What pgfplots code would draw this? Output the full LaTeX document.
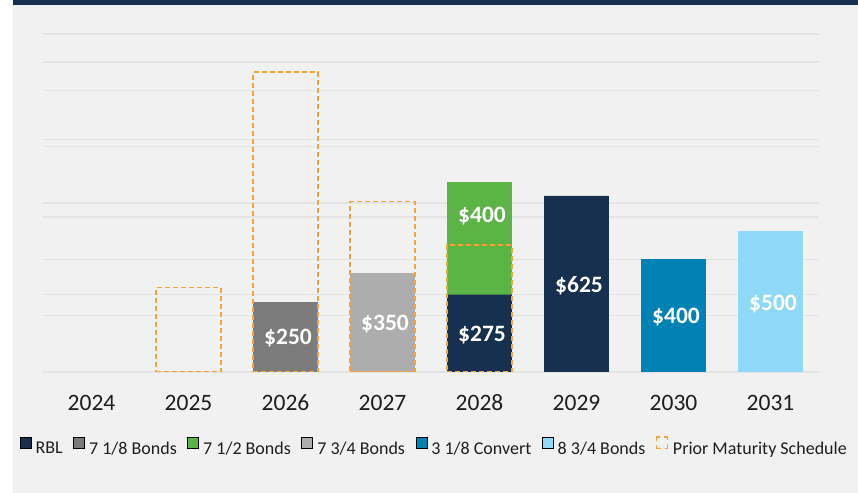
\documentclass[border=0pt]{standalone}
\usepackage{fontspec}
\setmainfont{Carlito}
\usepackage{pgfplots}
\usepackage{pgfplotstable}
\pgfplotsset{compat=1.18}
\definecolor{bgc}{HTML}{F1F1F1}
\definecolor{gridc}{HTML}{E4E4E4}
\definecolor{navy}{HTML}{17304F}
\definecolor{gdark}{HTML}{7B7B7B}
\definecolor{green}{HTML}{5CB346}
\definecolor{glight}{HTML}{ADADAD}
\definecolor{teal}{HTML}{0082B4}
\definecolor{sky}{HTML}{8FD8F7}
\definecolor{orangeD}{HTML}{F5A33A}
\definecolor{txt}{HTML}{1E1E1E}

% maturities by year (2024 = 0 ... 2031 = 7), $ millions
\pgfplotstableread{
x rbl b718 b712 b734 cv318 b834
0 0   0   0   0   0   0
1 0   0   0   0   0   0
2 0   250 0   0   0   0
3 0   0   0   350 0   0
4 275 0   400 0   0   0
5 625 0   0   0   0   0
6 0   0   0   0   400 0
7 0   0   0   0   0   500
}\debtdata

\pgfplotstableread{
x y
1 300
2 1065
3 605
4 450
}\priordata

\pgfplotstableread{
x y label
2 124 \$250
3 174 \$350
4 135 \$275
4 556 \$400
5 310 \$625
6 199 \$400
7 246 \$500
}\labeldata

\pgfplotsset{
  frame/.style={
    at={(43bp,121bp)}, anchor=south west,
    scale only axis, width=776bp, height=338bp,
    xmin=-0.5, xmax=7.5, ymin=0, ymax=1200,
  }
}

\begin{document}
\begin{tikzpicture}
\fill[white] (0,0) rectangle (858bp,493bp);
\fill[bgc] (13bp,0) rectangle (858bp,488bp);
\fill[navy] (13bp,488bp) rectangle (858bp,493bp);

\begin{axis}[
  frame,
  ybar stacked,
  bar width=0.667,
  axis line style={draw=none},
  tick style={draw=none},
  xtick={0,1,2,3,4,5,6,7},
  xticklabels={2024,2025,2026,2027,2028,2029,2030,2031},
  xticklabel style={anchor=center, yshift=-30.7bp, text=txt,
    font=\fontsize{23.5bp}{28bp}\selectfont},
  ytick={0,200,400,600,800,1000,1200},
  yticklabels={},
  extra y ticks={275,550,825,1100},
  extra y tick labels={},
  extra y tick style={grid=major},
  ymajorgrids,
  grid style={draw=gridc, line width=1.4bp},
  legend columns=-1,
  legend image code/.code={\draw[#1] (0bp,0bp) rectangle (11bp,11.5bp);},
  legend style={at={(0.5045,-0.219)}, anchor=center, draw=none, fill=none,
    font=\fontsize{18bp}{22bp}\selectfont, text=txt,
    nodes={inner xsep=2.5bp, inner ysep=0bp},
    /tikz/every odd column/.append style={column sep=2bp},
    /tikz/every even column/.append style={column sep=8bp}},
]
\addplot[fill=navy, draw=none] table[x=x, y=rbl] {\debtdata};
\addlegendentry{RBL}
\addplot[fill=gdark, draw=none] table[x=x, y=b718] {\debtdata};
\addlegendentry{7 1/8 Bonds}
\addplot[fill=green, draw=none] table[x=x, y=b712] {\debtdata};
\addlegendentry{7 1/2 Bonds}
\addplot[fill=glight, draw=none] table[x=x, y=b734] {\debtdata};
\addlegendentry{7 3/4 Bonds}
\addplot[fill=teal, draw=none] table[x=x, y=cv318] {\debtdata};
\addlegendentry{3 1/8 Convert}
\addplot[fill=sky, draw=none] table[x=x, y=b834] {\debtdata};
\addlegendentry{8 3/4 Bonds}
\addlegendimage{draw=orangeD, fill=none, line width=1.5bp,
  dash pattern=on 7bp off 4bp, dash phase=3.5bp}
\addlegendentry{Prior Maturity Schedule}
\end{axis}

\begin{axis}[frame, hide axis]
\addplot[ybar, bar width=0.667, bar shift=0pt, draw=orangeD, fill=none,
  line width=1.5bp, dash pattern=on 5bp off 3bp]
  table[x=x, y=y] {\priordata};
\addplot[draw=none, mark=none, nodes near coords, point meta=explicit symbolic,
  every node near coord/.append style={anchor=center, text=white, xshift=2.5bp,
    text height=14.9bp, text depth=0bp,
    font=\fontsize{23.5bp}{28bp}\selectfont\bfseries}]
  table[x=x, y=y, meta=label] {\labeldata};
\end{axis}

\pgfresetboundingbox
\path[use as bounding box] (0,0) rectangle (858bp,493bp);
\end{tikzpicture}
\end{document}
